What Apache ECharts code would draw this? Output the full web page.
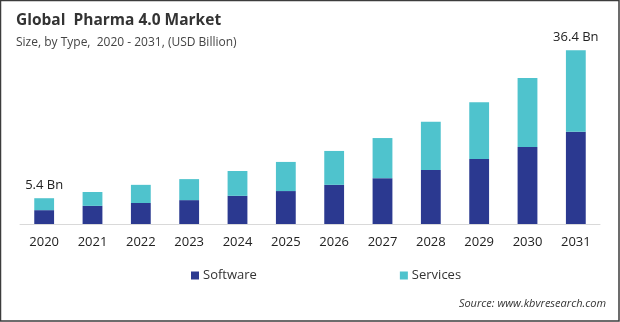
<!DOCTYPE html>
<html>
<head>
<meta charset="utf-8">
<script src="https://cdn.jsdelivr.net/npm/echarts@6/dist/echarts.min.js"></script>
<style>
  html, body { margin: 0; padding: 0; background: #fff; }
  #chart { width: 620px; height: 322px; }
</style>
</head>
<body>
<div id="chart"></div>
<script>
// Global Pharma 4.0 market size by type, USD billion
const years = ['2020', '2021', '2022', '2023', '2024', '2025', '2026', '2027', '2028', '2029', '2030', '2031'];
const software = [2.9, 3.8, 4.4, 5.0, 5.9, 6.9, 8.2, 9.6, 11.3, 13.6, 16.1, 19.3];
const services = [2.5, 2.9, 3.8, 4.4, 5.2, 6.1, 7.1, 8.4, 10.1, 11.9, 14.5, 17.1];
// Totals printed above the first and last bars
const totalLabels = { 0: '5.4 Bn', 11: '36.4 Bn' };

const fontFamily = '"Open Sans", "Noto Sans", sans-serif';
const chart = echarts.init(document.getElementById('chart'), null, { renderer: 'canvas' });

chart.setOption({
  animation: false,
  textStyle: { fontFamily: fontFamily },
  grid: { left: 20, right: 20, top: 33, bottom: 98, containLabel: false },
  graphic: [
    { type: 'rect', silent: true, shape: { x: 0.5, y: 0.5, width: 618.5, height: 320.5 },
      style: { fill: 'none', stroke: '#3c3c3c', lineWidth: 1.5 } },
    { type: 'text', left: 16, top: 13,
      style: { text: 'Global  Pharma 4.0 Market', fill: '#333', font: '700 15.5px ' + fontFamily } },
    { type: 'text', left: 16, top: 37,
      style: { text: 'Size, by Type,  2020 - 2031, (USD Billion)', fill: '#444', font: '12px ' + fontFamily } },
    { type: 'text', right: 14, top: 298,
      style: { text: 'Source: www.kbvresearch.com', fill: '#333', font: 'italic 11px ' + fontFamily } }
  ],
  legend: {
    bottom: 35,
    left: 186,
    itemGap: 143,
    itemWidth: 8,
    itemHeight: 8,
    icon: 'rect',
    textStyle: { fontSize: 13, color: '#333', padding: [0, 0, 0, -1] },
    data: ['Software', 'Services']
  },
  xAxis: {
    type: 'category',
    data: years,
    axisLine: { lineStyle: { color: '#d9d9d9', width: 1 } },
    axisTick: { show: false },
    axisLabel: { color: '#222', fontSize: 13, margin: 12 }
  },
  yAxis: {
    type: 'value',
    min: 0,
    max: 40,
    show: false,
    splitLine: { show: false }
  },
  series: [
    {
      name: 'Software',
      type: 'bar',
      stack: 'total',
      barWidth: '41%',
      itemStyle: { color: '#2B3990' },
      data: software
    },
    {
      name: 'Services',
      type: 'bar',
      stack: 'total',
      barWidth: '41%',
      itemStyle: { color: '#4FC3CD' },
      label: {
        show: true,
        position: 'top',
        distance: 6,
        color: '#222',
        fontSize: 13,
        formatter: p => totalLabels[p.dataIndex] || ''
      },
      data: services
    }
  ]
});
</script>
</body>
</html>
